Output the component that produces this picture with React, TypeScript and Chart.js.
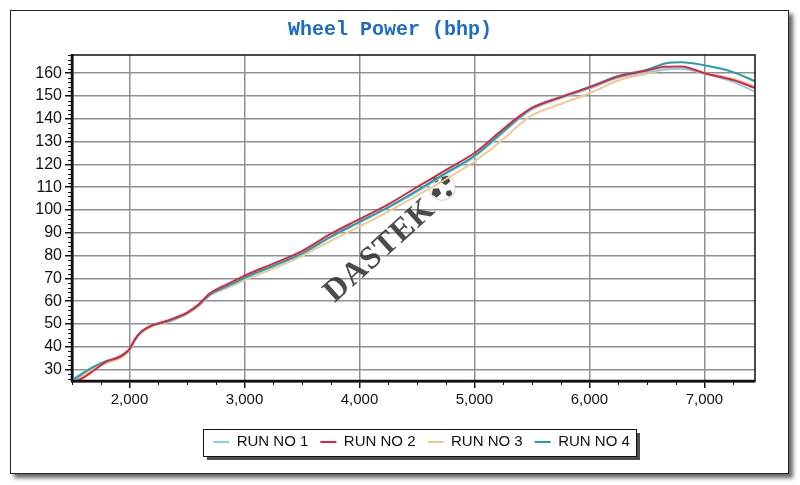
import React, { useEffect, useRef } from "react";
import { Chart, registerables } from "chart.js";

Chart.register(...registerables);

const TITLE = "Wheel Power (bhp)";
const WATERMARK = "DASTEK";
const RUN_LABELS = ["RUN NO 1", "RUN NO 2", "RUN NO 3", "RUN NO 4"];
const RUN_COLORS = ["#86cfec", "#e0253f", "#f6c78b", "#25a0a2"];
const RUN_ORDER = [2, 0, 3, 1];

const RPM = [1520, 1600, 1700, 1800, 1900, 1950, 2000, 2050, 2100, 2200, 2300, 2400, 2500, 2600, 2700, 2800, 2900, 3000, 3250, 3500, 3750, 4000, 4250, 4500, 4750, 5000, 5250, 5400, 5500, 5750, 6000, 6250, 6500, 6650, 6800, 7000, 7250, 7440];

const RUN1 = [26.3, 28.8, 31.5, 33.5, 35, 36.5, 38.8, 43.2, 46.2, 49.3, 50.6, 52.3, 54.6, 58, 62.7, 65.2, 67.5, 70, 75.2, 80.7, 88, 94.5, 101, 108, 115.8, 123.3, 134, 140.5, 144, 149, 153.3, 158, 160.5, 161.8, 162, 159.8, 156.2, 151.8];
const RUN2 = [24.5, 26.5, 30, 33.5, 35.3, 36.8, 39, 43.5, 46.5, 49.5, 51, 52.8, 55, 58.5, 63.5, 66.3, 68.7, 71.2, 76.5, 82, 89.5, 96, 102.5, 110, 117.5, 125, 135.5, 141.5, 144.8, 149.5, 153.8, 158.5, 161.2, 162.8, 163, 160, 157, 153.5];
const RUN3 = [25.3, 27.5, 30.5, 33, 34.5, 36, 38.5, 43, 46, 49, 50.3, 52, 54.3, 57.8, 62.5, 64.8, 66.8, 69.2, 74.3, 79.8, 86.5, 92.8, 99.3, 106.3, 113.5, 121.3, 131, 137.8, 141.5, 146.5, 151.2, 156.8, 159.8, 161.5, 162, 160, 157.5, 154.2];
const RUN4 = [25.8, 28.5, 31.5, 33.8, 35.3, 36.7, 39, 43.5, 46.5, 49.5, 50.8, 52.5, 54.8, 58.3, 63, 65.5, 67.8, 70.3, 75.5, 81, 88.3, 94.8, 101.3, 108.5, 116.2, 123.8, 134.5, 141, 144.8, 149.5, 154, 158.8, 161.5, 164.2, 164.8, 163.5, 160.5, 156.5];

const RUNS = [RUN1, RUN2, RUN3, RUN4];

const X_MIN = 1500;
const X_MAX = 7440;
const X_TICKS = [2000, 3000, 4000, 5000, 6000, 7000];
const X_MINOR = 250;
const Y_MIN = 25;
const Y_MAX = 168;
const Y_TICKS = [30, 40, 50, 60, 70, 80, 90, 100, 110, 120, 130, 140, 150, 160];
const Y_MINOR = 2;
const WATERMARK_AT = { x: 4180, y: 82 };
const BALL_AT = { x: 4720, y: 110 };

const LEGEND_SHIFT = 8;
const FONT = "Arial, 'Liberation Sans', sans-serif";

const decorPlugin = {
  id: "decor",
  afterLayout(chart: any) {
    const lg = chart.legend;
    if (lg) {
      lg.left += LEGEND_SHIFT;
      lg.right += LEGEND_SHIFT;
    }
  },
  beforeDraw(chart: any) {
    const hb = chart.legend && chart.legend.legendHitBoxes;
    if (!hb || !hb.length) return;
    const ctx = chart.ctx;
    const last = hb[hb.length - 1];
    const l = Math.round(hb[0].left - 10);
    const r = Math.round(last.left + last.width + 6);
    const t = Math.round(hb[0].top - 6);
    const b = Math.round(hb[0].top + hb[0].height + 6);
    ctx.save();
    ctx.fillStyle = "rgba(20,20,20,0.75)";
    ctx.fillRect(l + 4, t + 4, r - l, b - t);
    ctx.fillStyle = "#ffffff";
    ctx.fillRect(l, t, r - l, b - t);
    ctx.strokeStyle = "#111";
    ctx.lineWidth = 1;
    ctx.strokeRect(l + 0.5, t + 0.5, r - l, b - t);
    ctx.restore();
  },
  beforeDatasetsDraw(chart: any) {
    const ctx = chart.ctx;
    const xs = chart.scales.x;
    const ys = chart.scales.y;
    const cx = xs.getPixelForValue(WATERMARK_AT.x);
    const cy = ys.getPixelForValue(WATERMARK_AT.y);
    ctx.save();
    ctx.translate(cx, cy);
    ctx.rotate((-42 * Math.PI) / 180);
    ctx.font = "bold 32px 'Liberation Serif', 'DejaVu Serif', serif";
    try {
      (ctx as any).letterSpacing = "1px";
    } catch (e) {}
    ctx.textAlign = "center";
    ctx.textBaseline = "middle";
    ctx.fillStyle = "rgba(45,45,45,0.85)";
    ctx.fillText(WATERMARK, 0, 0);
    ctx.restore();
    // small ball emblem
    const bx = xs.getPixelForValue(BALL_AT.x);
    const by = ys.getPixelForValue(BALL_AT.y);
    ctx.save();
    ctx.translate(bx, by);
    ctx.rotate((-42 * Math.PI) / 180);
    ctx.beginPath();
    ctx.arc(0, 0, 13, 0, Math.PI * 2);
    ctx.fillStyle = "rgba(255,255,255,0.9)";
    ctx.fill();
    ctx.strokeStyle = "rgba(120,120,120,0.35)";
    ctx.lineWidth = 1;
    ctx.stroke();
    ctx.fillStyle = "rgba(40,40,40,0.85)";
    const patches = [
      [-8, 0, 5],
      [7, -3, 5],
      [1, 9, 3.5],
      [0, -10, 3],
    ];
    patches.forEach(([px, py, pr]) => {
      ctx.beginPath();
      for (let k = 0; k < 5; k++) {
        const ang = (k * 2 * Math.PI) / 5 - Math.PI / 2;
        const qx = px + pr * Math.cos(ang);
        const qy = py + pr * Math.sin(ang);
        if (k === 0) ctx.moveTo(qx, qy);
        else ctx.lineTo(qx, qy);
      }
      ctx.closePath();
      ctx.fill();
    });
    ctx.restore();
  },
  afterDatasetsDraw(chart: any) {
    const ctx = chart.ctx;
    const a = chart.chartArea;
    const xs = chart.scales.x;
    const ys = chart.scales.y;
    ctx.save();
    ctx.strokeStyle = "#111";
    ctx.lineWidth = 1.5;
    ctx.beginPath();
    ctx.moveTo(a.left, a.top);
    ctx.lineTo(a.right, a.top);
    ctx.lineTo(a.right, a.bottom);
    ctx.stroke();
    ctx.lineWidth = 2.5;
    ctx.beginPath();
    ctx.moveTo(a.left, a.top);
    ctx.lineTo(a.left, a.bottom);
    ctx.lineTo(a.right, a.bottom);
    ctx.stroke();
    ctx.lineWidth = 1;
    ctx.beginPath();
    for (let v = Math.ceil(Y_MIN / Y_MINOR) * Y_MINOR; v <= Y_MAX; v += Y_MINOR) {
      if (Y_TICKS.includes(v)) continue;
      const y = Math.round(ys.getPixelForValue(v)) + 0.5;
      ctx.moveTo(a.left - 4, y);
      ctx.lineTo(a.left, y);
    }
    for (let v = Math.ceil(X_MIN / X_MINOR) * X_MINOR; v <= X_MAX; v += X_MINOR) {
      if (X_TICKS.includes(v)) continue;
      const x = Math.round(xs.getPixelForValue(v)) + 0.5;
      ctx.moveTo(x, a.bottom);
      ctx.lineTo(x, a.bottom + 4);
    }
    ctx.stroke();
    ctx.restore();
  },
};

export default function App() {
  const ref = useRef<HTMLCanvasElement | null>(null);

  useEffect(() => {
    if (!ref.current) return;
    const datasets = RUNS.map((vals, i) => ({
      label: RUN_LABELS[i],
      data: RPM.map((r, j) => ({ x: r, y: vals[j] })),
      borderColor: RUN_COLORS[i],
      backgroundColor: RUN_COLORS[i],
      borderWidth: 2,
      pointRadius: 0,
      pointStyle: "line" as const,
      cubicInterpolationMode: "monotone" as const,
      fill: false,
      order: RUN_ORDER[i],
    }));
    const grid = {
      color: "#8d9099",
      lineWidth: 1.5,
      tickLength: 7,
      tickColor: "#111",
      tickWidth: 1.5,
    };
    const chart = new Chart(ref.current, {
      type: "line",
      data: { datasets },
      plugins: [decorPlugin],
      options: {
        responsive: false,
        animation: false,
        devicePixelRatio: 1,
        layout: { padding: { left: 25, right: 25, top: 0, bottom: 25.5 } },
        plugins: {
          title: {
            display: true,
            text: TITLE,
            color: "#1a6cc8",
            font: { family: "'Courier New', 'Liberation Mono', monospace", size: 20, weight: "bold", lineHeight: 1.2 },
            padding: { top: 18, bottom: 13 },
          },
          legend: {
            position: "bottom",
            fullSize: false,
            labels: {
              usePointStyle: true,
              pointStyle: "line",
              pointStyleWidth: 16,
              padding: 12,
              color: "#111",
              font: { family: FONT, size: 15 },
              sort: (a: any, b: any) => a.datasetIndex - b.datasetIndex,
            },
          },
          tooltip: { enabled: false },
        },
        scales: {
          x: {
            type: "linear",
            min: X_MIN,
            max: X_MAX,
            afterBuildTicks: (s: any) => {
              s.ticks = X_TICKS.map((v) => ({ value: v }));
            },
            afterFit: (s: any) => {
              s.height = 41.5;
            },
            ticks: {
              maxRotation: 0,
              autoSkip: false,
              padding: 3,
              color: "#111",
              font: { family: FONT, size: 15 },
            },
            grid,
            border: { display: true, color: "#111", width: 2.5 },
          },
          y: {
            type: "linear",
            min: Y_MIN,
            max: Y_MAX,
            afterBuildTicks: (s: any) => {
              s.ticks = Y_TICKS.map((v) => ({ value: v }));
            },
            afterFit: (s: any) => {
              s.width = 47;
            },
            ticks: {
              autoSkip: false,
              padding: 3,
              color: "#111",
              font: { family: FONT, size: 16 },
            },
            grid,
            border: { display: true, color: "#111", width: 2.5 },
          },
        },
      },
    });
    return () => chart.destroy();
  }, []);

  return (
    <div style={{ position: "absolute", left: 0, top: 0, width: 800, height: 485, background: "#fff", overflow: "hidden" }}>
      <div
        style={{
          position: "absolute",
          left: 10,
          top: 10,
          width: 779,
          height: 464,
          boxSizing: "border-box",
          border: "1px solid #222",
          boxShadow: "4px 4px 4px rgba(0,0,0,0.6)",
          background: "#fff",
        }}
      />
      <canvas ref={ref} width={780} height={485} style={{ position: "absolute", left: 0, top: 0, width: 780, height: 485 }} />
    </div>
  );
}
